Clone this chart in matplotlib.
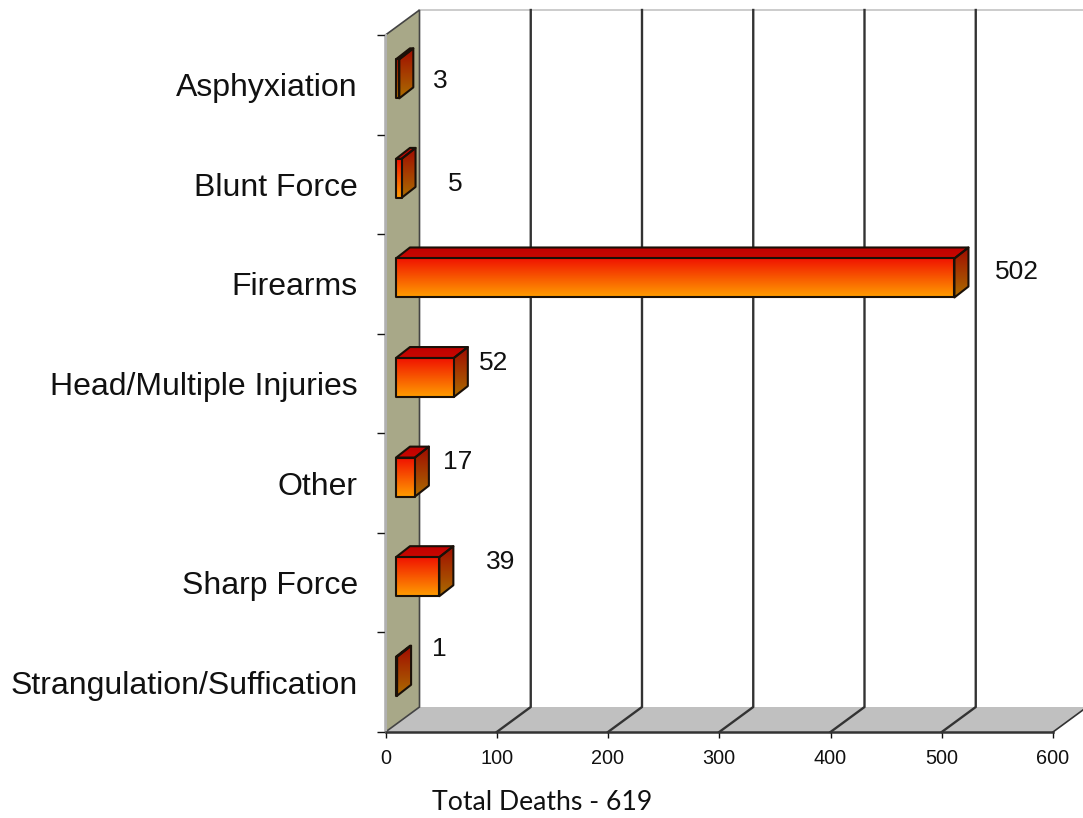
import matplotlib
matplotlib.use("Agg")
import matplotlib.pyplot as plt
import numpy as np
from matplotlib.colors import LinearSegmentedColormap
from matplotlib.patches import Polygon

plt.rcParams['font.family'] = ['Liberation Sans', 'DejaVu Sans']

categories = ['Asphyxiation', 'Blunt Force', 'Firearms', 'Head/Multiple Injuries',
              'Other', 'Sharp Force', 'Strangulation/Suffication']
deaths = [3, 5, 502, 52, 17, 39, 1]
x_ticks = [0, 100, 200, 300, 400, 500, 600]
x_title = 'Total Deaths - 619'

# where the value labels sit, in figure pixels (hand placed in the original)
label_x = [440, 455, 1017, 494, 458, 501, 439]
label_y = [81, 184, 272, 363, 462, 562, 649]

W, H = 1083, 818
# depth of the fake 3d box, in data units
DX = 30.56
DY = 0.251
# bars
BAR_X0 = 9.4
BAR_DX = 12.6
BAR_DY = 0.11
BAR_H = 0.392
BAR_SHIFT = -0.06


def gradient_face(ax, pts, top, bottom, z):
    cmap = LinearSegmentedColormap.from_list('f', [top, bottom])
    xs = [p[0] for p in pts]
    ys = [p[1] for p in pts]
    img = ax.imshow(np.linspace(0, 1, 64).reshape(-1, 1), cmap=cmap, aspect='auto',
                    extent=(min(xs), max(xs), max(ys), min(ys)), origin='upper',
                    interpolation='bilinear', zorder=z)
    edge = Polygon(pts, closed=True, fill=False, edgecolor='#1a1008', linewidth=1.5,
                   joinstyle='round', zorder=z + 0.5, clip_on=False)
    ax.add_patch(edge)
    img.set_clip_path(edge)


fig = plt.figure(figsize=(W / 100, H / 100), dpi=100)
ax = fig.add_axes([385.5 / W, (H - 732) / H, 667.5 / W, 697 / H])

# floor and side wall
ax.add_patch(Polygon([(0, 7), (600, 7), (600 + DX, 7 - DY), (DX, 7 - DY)], facecolor='#c0c0c0',
                     edgecolor='none', zorder=1, clip_on=False))
ax.add_patch(Polygon([(0, 7), (0, 0), (DX, -DY), (DX, 7 - DY)], facecolor='#a8a888',
                     edgecolor='#444444', linewidth=1.2, zorder=2, clip_on=False))
ax.plot([DX, 640], [-DY, -DY], color='#c4c4c4', lw=1.2, zorder=1, clip_on=False)

# back gridlines, running over the floor and up the back wall
for t in x_ticks[1:6]:
    ax.plot([t, t + DX, t + DX], [7, 7 - DY, -DY], color='#333333', lw=1.7, zorder=1.5, clip_on=False)
ax.plot([600, 600 + DX], [7, 7 - DY], color='#333333', lw=1.2, zorder=1.5, clip_on=False)

for i, v in enumerate(deaths):
    x0 = BAR_X0
    x1 = BAR_X0 + v
    y0 = i + 0.5 + BAR_SHIFT - BAR_H / 2
    y1 = y0 + BAR_H
    gradient_face(ax, [(x0, y0), (x0 + BAR_DX, y0 - BAR_DY), (x1 + BAR_DX, y0 - BAR_DY), (x1, y0)],
                  '#c00000', '#c80800', 5)
    gradient_face(ax, [(x1, y0), (x1 + BAR_DX, y0 - BAR_DY), (x1 + BAR_DX, y1 - BAR_DY), (x1, y1)],
                  '#a00c00', '#ab6c00', 5)
    # the thinnest bars read as dark in the original, their front is all outline
    if v < 5:
        gradient_face(ax, [(x0, y0), (x1, y0), (x1, y1), (x0, y1)], '#a00c00', '#ab6c00', 6)
    else:
        gradient_face(ax, [(x0, y0), (x1, y0), (x1, y1), (x0, y1)], '#f01000', '#ff9c00', 6)
    fig.text(label_x[i] / W, 1 - label_y[i] / H, str(v), fontsize=19, color='#111111',
             ha='center', va='center')

ax.set_xlim(0, 600)
ax.set_ylim(7, 0)
ax.patch.set_visible(False)
for s in ['top', 'right']:
    ax.spines[s].set_visible(False)
ax.spines['left'].set_color('#b0b0b0')
ax.spines['left'].set_linewidth(1.5)
ax.spines['bottom'].set_color('#333333')
ax.spines['bottom'].set_linewidth(1.8)
ax.spines['bottom'].set_zorder(3)

ax.set_xticks(x_ticks)
ax.tick_params(axis='x', labelsize=14.3, length=4, width=1, pad=8, colors='#111111')
ax.set_yticks(range(8))
ax.set_yticklabels([])
ax.tick_params(axis='y', which='major', length=6.5, width=1, color='#111111')
ax.set_yticks(np.arange(7) + 0.5, minor=True)
ax.set_yticklabels(categories, minor=True, fontsize=23, color='#111111')
ax.tick_params(axis='y', which='minor', length=0, pad=20)

fig.text(542 / W, 1 - 803 / H, x_title, fontsize=19.2, family=['Lato', 'DejaVu Sans'],
         color='#111111', ha='center', va='center')

fig.savefig('out.png', dpi=100)
